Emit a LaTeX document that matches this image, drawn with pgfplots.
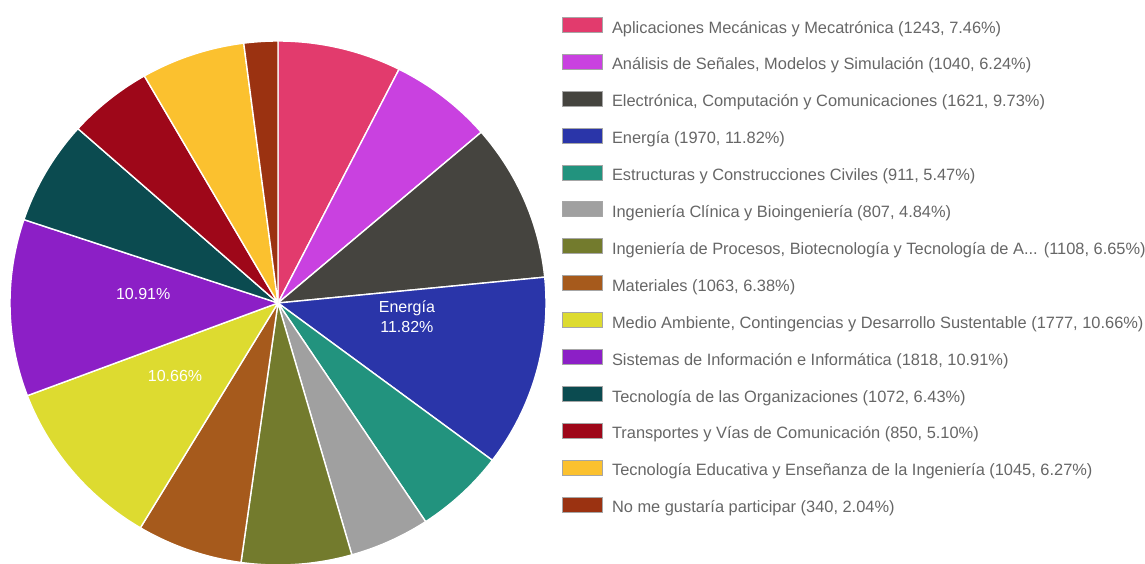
\documentclass[border=0pt]{standalone}
\usepackage{fontspec}
\setmainfont{Liberation Sans}
\usepackage{pgfplots}
\pgfplotsset{compat=1.18}
\definecolor{c1}{HTML}{E23B6D}
\definecolor{c2}{HTML}{C941E0}
\definecolor{c3}{HTML}{45443F}
\definecolor{c4}{HTML}{2A35A9}
\definecolor{c5}{HTML}{22937E}
\definecolor{c6}{HTML}{A0A0A0}
\definecolor{c7}{HTML}{737B2D}
\definecolor{c8}{HTML}{A65A1C}
\definecolor{c9}{HTML}{DDDB30}
\definecolor{c10}{HTML}{8C1FC6}
\definecolor{c11}{HTML}{0B4B50}
\definecolor{c12}{HTML}{9E0719}
\definecolor{c13}{HTML}{FBC12F}
\definecolor{c14}{HTML}{9B3211}
\definecolor{txt}{HTML}{666666}
% counts: 1243 1040 1621 1970 911 807 1108 1063 1777 1818 1072 850 1045 340 ; total 16665
\newcommand{\ang}[1]{#1/16665*360}
\begin{document}
\begin{tikzpicture}[x=1pt,y=1pt]
\useasboundingbox (0,0) rectangle (1145,563);
\clip (0,0) rectangle (1145,563);
\begin{axis}[
  at={(278pt,260pt)}, anchor=origin,
  hide axis, scale only axis,
  width=536pt, height=524pt,
  xmin=-1, xmax=1, ymin=-1, ymax=1,
  clip=false,
  samples=80, variable=\t,
  every axis plot/.append style={draw=white, line width=1.4pt},
  legend image code/.code={\draw[#1, draw=black!35, line width=1pt] (0pt,-3pt) rectangle (40pt,12pt);},
  legend cell align=left,
  legend style={at={(1.0299,1.0458)}, anchor=north west, draw=none, fill=none,
    inner sep=0pt, outer sep=0pt,
    font=\fontsize{16.4}{19}\selectfont, text=txt,
    row sep=16.9pt, column sep=9pt,
    nodes={inner sep=0pt, text height=11pt, text depth=4pt}},
]
\addplot[fill=c1, domain={\ang{0}}:{\ang{1243}}] ({sin(\t)},{cos(\t)}) -- (axis cs:0,0) -- cycle;
\addlegendentry{Aplicaciones Mecánicas y Mecatrónica (1243, 7.46\%)}
\addplot[fill=c2, domain={\ang{1243}}:{\ang{2283}}] ({sin(\t)},{cos(\t)}) -- (axis cs:0,0) -- cycle;
\addlegendentry{Análisis de Señales, Modelos y Simulación (1040, 6.24\%)}
\addplot[fill=c3, domain={\ang{2283}}:{\ang{3904}}] ({sin(\t)},{cos(\t)}) -- (axis cs:0,0) -- cycle;
\addlegendentry{Electrónica, Computación y Comunicaciones (1621, 9.73\%)}
\addplot[fill=c4, domain={\ang{3904}}:{\ang{5874}}] ({sin(\t)},{cos(\t)}) -- (axis cs:0,0) -- cycle;
\addlegendentry{Energía (1970, 11.82\%)}
\addplot[fill=c5, domain={\ang{5874}}:{\ang{6785}}] ({sin(\t)},{cos(\t)}) -- (axis cs:0,0) -- cycle;
\addlegendentry{Estructuras y Construcciones Civiles (911, 5.47\%)}
\addplot[fill=c6, domain={\ang{6785}}:{\ang{7592}}] ({sin(\t)},{cos(\t)}) -- (axis cs:0,0) -- cycle;
\addlegendentry{Ingeniería Clínica y Bioingeniería (807, 4.84\%)}
\addplot[fill=c7, domain={\ang{7592}}:{\ang{8700}}] ({sin(\t)},{cos(\t)}) -- (axis cs:0,0) -- cycle;
\addlegendentry{Ingeniería de Procesos, Biotecnología y Tecnología de A... (1108, 6.65\%)}
\addplot[fill=c8, domain={\ang{8700}}:{\ang{9763}}] ({sin(\t)},{cos(\t)}) -- (axis cs:0,0) -- cycle;
\addlegendentry{Materiales (1063, 6.38\%)}
\addplot[fill=c9, domain={\ang{9763}}:{\ang{11540}}] ({sin(\t)},{cos(\t)}) -- (axis cs:0,0) -- cycle;
\addlegendentry{Medio Ambiente, Contingencias y Desarrollo Sustentable (1777, 10.66\%)}
\addplot[fill=c10, domain={\ang{11540}}:{\ang{13358}}] ({sin(\t)},{cos(\t)}) -- (axis cs:0,0) -- cycle;
\addlegendentry{Sistemas de Información e Informática (1818, 10.91\%)}
\addplot[fill=c11, domain={\ang{13358}}:{\ang{14430}}] ({sin(\t)},{cos(\t)}) -- (axis cs:0,0) -- cycle;
\addlegendentry{Tecnología de las Organizaciones (1072, 6.43\%)}
\addplot[fill=c12, domain={\ang{14430}}:{\ang{15280}}] ({sin(\t)},{cos(\t)}) -- (axis cs:0,0) -- cycle;
\addlegendentry{Transportes y Vías de Comunicación (850, 5.10\%)}
\addplot[fill=c13, domain={\ang{15280}}:{\ang{16325}}] ({sin(\t)},{cos(\t)}) -- (axis cs:0,0) -- cycle;
\addlegendentry{Tecnología Educativa y Enseñanza de la Ingeniería (1045, 6.27\%)}
\addplot[fill=c14, domain={\ang{16325}}:{\ang{16665}}] ({sin(\t)},{cos(\t)}) -- (axis cs:0,0) -- cycle;
\addlegendentry{No me gustaría participar (340, 2.04\%)}
\node[white, align=center, font=\fontsize{16}{20}\selectfont] at (axis cs:0.481,-0.053) {Energía\\11.82\%};
\node[white, font=\fontsize{16}{18}\selectfont] at (axis cs:-0.503,0.034) {10.91\%};
\node[white, font=\fontsize{16}{18}\selectfont] at (axis cs:-0.384,-0.279) {10.66\%};
\end{axis}
\end{tikzpicture}
\end{document}
